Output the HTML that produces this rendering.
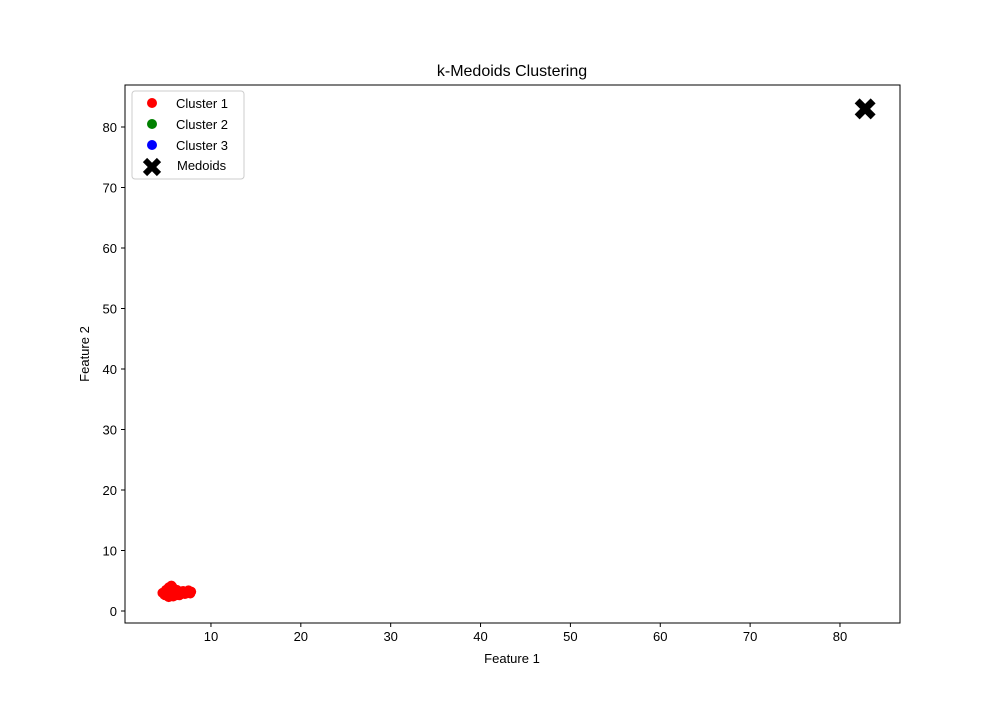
<!DOCTYPE html>
<html><head><meta charset="utf-8"><style>
body{margin:0;background:#fff}
svg{font-family:"Liberation Sans","DejaVu Sans",sans-serif}
</style></head><body>
<svg id="chart" width="1000" height="700" xmlns="http://www.w3.org/2000/svg">
<rect width="1000" height="700" fill="#fff"/>
<text x="512" y="76" font-size="16" text-anchor="middle">k-Medoids Clustering</text>
<g id="marks"></g>
<rect x="125" y="85" width="775" height="538" fill="none" stroke="#000" stroke-width="1"/>
<g id="axes"></g>
<text x="512" y="663" font-size="13" text-anchor="middle">Feature 1</text>
<text transform="translate(89,354) rotate(-90)" font-size="13" text-anchor="middle">Feature 2</text>
<g>
<rect x="132" y="91" width="112" height="88" rx="3" fill="#fff" stroke="#ccc"/>
<circle cx="152" cy="103" r="5" fill="red"/>
<text x="176" y="108" font-size="13">Cluster 1</text>
<circle cx="152" cy="124" r="5" fill="green"/>
<text x="176" y="129" font-size="13">Cluster 2</text>
<circle cx="152" cy="145" r="5" fill="blue"/>
<text x="176" y="150" font-size="13">Cluster 3</text>
<path d="M145,160 L159,174 M159,160 L145,174" stroke="#000" stroke-width="6"/>
<text x="177" y="170" font-size="13">Medoids</text>
</g>
</svg>
<script>
const xTicks=[10,20,30,40,50,60,70,80];
const yTicks=[0,10,20,30,40,50,60,70,80];
const cluster1X=[4.6,4.9,5.1,5.3,5.5,5.7,5.9,5.2,5.6,6.0,6.3,6.6,6.9,7.2,7.5,7.8,5.0,5.4,5.8,6.2,6.5,6.8,7.1,7.4,7.7,4.8,5.3,5.9,6.1,5.6];
const cluster1Y=[3.0,2.6,3.3,2.3,3.6,4.0,3.1,2.8,2.5,2.7,3.2,2.9,3.3,3.0,3.4,3.2,3.5,3.8,2.4,3.5,2.6,3.1,2.8,3.2,2.9,2.7,3.9,3.6,2.6,4.2];
const medoidX=[82.8];
const medoidY=[83.0];
const sx=v=>121.1+v*8.986;
const sy=v=>611-v*6.05;
const NS="http://www.w3.org/2000/svg";
const axes=document.getElementById('axes'),marks=document.getElementById('marks');
function mk(t,a,p){const e=document.createElementNS(NS,t);for(const k in a)e.setAttribute(k,a[k]);p.appendChild(e);return e;}
xTicks.forEach(t=>{
 const l=mk('line',{x1:sx(t),x2:sx(t),y1:623,y2:627,stroke:'#000'},axes);
 
 
 const tx=mk('text',{x:sx(t),y:641,'font-size':13,'text-anchor':'middle'},axes);tx.textContent=t;
 
 
});
yTicks.forEach(t=>{
 const l=mk('line',{x1:121,x2:125,y1:sy(t),y2:sy(t),stroke:'#000'},axes);
 
 
 const tx=mk('text',{x:117,y:sy(t)+5,'font-size':13,'text-anchor':'end'},axes);tx.textContent=t;
 
 
});
cluster1X.forEach((x,i)=>{
 const c=mk('circle',{cx:sx(x),cy:sy(cluster1Y[i]),r:5,fill:'red'},marks);
 
 
});
medoidX.forEach((x,i)=>{
 const cx=sx(x),cy=sy(medoidY[i]);
 const p=mk('path',{d:`M${cx-8},${cy-8} L${cx+8},${cy+8} M${cx+8},${cy-8} L${cx-8},${cy+8}`,stroke:'#000','stroke-width':7},marks);
 
 
});
</script>
</body></html>
